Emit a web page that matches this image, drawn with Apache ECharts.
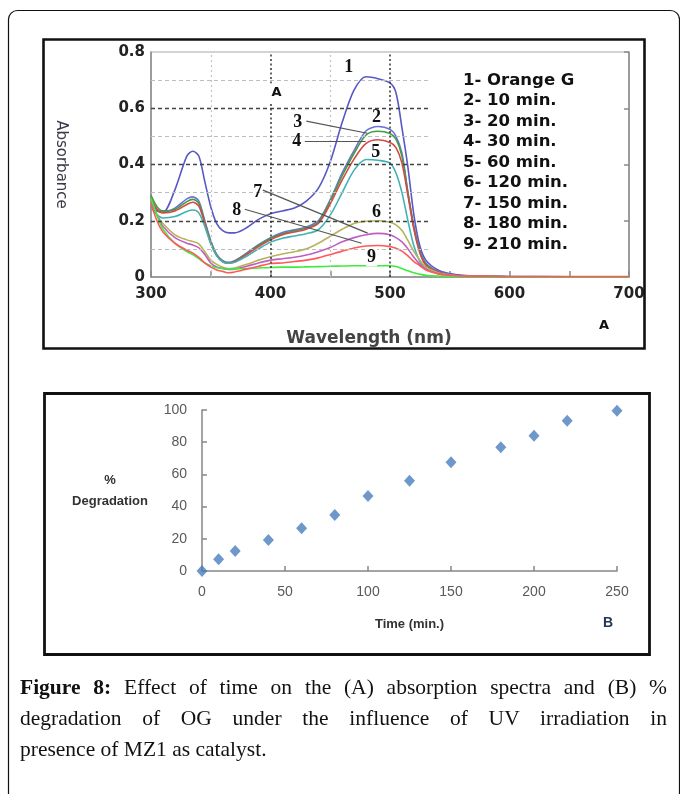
<!DOCTYPE html>
<html><head><meta charset="utf-8">
<script src="https://cdn.jsdelivr.net/npm/echarts@6/dist/echarts.min.js"></script>
<style>
html,body{margin:0;padding:0;background:#fff}
#c{position:absolute;left:0;top:0;width:680px;height:794px}
.cap{position:absolute;left:20px;width:647px;font-family:'Liberation Serif',serif;font-size:21.5px;line-height:31px;color:#111;white-space:nowrap}
.j{text-align:justify;text-align-last:justify;white-space:normal}
</style></head><body>
<div id="c"></div>
<div class="cap j" style="top:672px"><b>Figure 8:</b> Effect of time on the (A) absorption spectra and (B) %</div>
<div class="cap j" style="top:703px">degradation of OG under the influence of UV irradiation in</div>
<div class="cap" style="top:734px">presence of MZ1 as catalyst.</div>
<script>
// ---- Panel A: absorption spectra ----
const wavelengths = [300,305,310,320,330,335,340,345,350,355,360,365,370,380,390,400,410,420,430,440,450,460,470,480,490,500,505,510,515,520,525,530,540,550,560,580,600,650,700];
const seriesNames = ['1- Orange G','2- 10 min.','3- 20 min.','4- 30 min.','5- 60 min.','6- 120 min.','7- 150 min.','8- 180 min.','9- 210 min.'];
const absOrangeG = [0.25,0.235,0.23,0.31,0.43,0.447,0.43,0.34,0.25,0.19,0.165,0.157,0.157,0.175,0.205,0.225,0.235,0.245,0.27,0.315,0.41,0.55,0.665,0.712,0.705,0.69,0.655,0.53,0.39,0.22,0.11,0.06,0.025,0.012,0.006,0.003,0.002,0.001,0];
const abs10 = [0.27,0.24,0.23,0.245,0.278,0.285,0.27,0.20,0.13,0.08,0.058,0.052,0.058,0.085,0.115,0.14,0.158,0.168,0.178,0.20,0.275,0.37,0.45,0.52,0.535,0.525,0.50,0.44,0.30,0.18,0.095,0.05,0.02,0.01,0.005,0.002,0.001,0,0];
const abs20 = [0.29,0.25,0.235,0.24,0.268,0.276,0.262,0.195,0.125,0.078,0.056,0.05,0.056,0.083,0.112,0.137,0.154,0.164,0.174,0.195,0.27,0.36,0.44,0.505,0.518,0.51,0.49,0.43,0.30,0.175,0.09,0.045,0.018,0.008,0.004,0.002,0.001,0,0];
const abs30 = [0.28,0.24,0.228,0.235,0.258,0.266,0.252,0.19,0.12,0.076,0.054,0.049,0.054,0.08,0.108,0.132,0.15,0.16,0.17,0.19,0.26,0.345,0.42,0.475,0.488,0.478,0.46,0.405,0.29,0.17,0.085,0.042,0.018,0.008,0.004,0.002,0.001,0,0];
const abs60 = [0.25,0.222,0.21,0.215,0.233,0.238,0.228,0.18,0.118,0.075,0.054,0.049,0.052,0.074,0.1,0.124,0.138,0.146,0.154,0.168,0.22,0.30,0.38,0.418,0.415,0.405,0.37,0.30,0.20,0.11,0.055,0.03,0.014,0.007,0.003,0.002,0.001,0,0];
const abs120 = [0.27,0.22,0.19,0.15,0.132,0.126,0.118,0.09,0.06,0.045,0.035,0.03,0.032,0.045,0.06,0.072,0.082,0.09,0.1,0.12,0.145,0.17,0.19,0.198,0.2,0.195,0.185,0.165,0.13,0.09,0.06,0.035,0.015,0.007,0.003,0.002,0.001,0,0];
const abs150 = [0.27,0.22,0.18,0.14,0.12,0.114,0.104,0.08,0.05,0.036,0.03,0.027,0.028,0.038,0.05,0.06,0.065,0.07,0.078,0.09,0.105,0.125,0.14,0.15,0.155,0.15,0.14,0.125,0.1,0.07,0.045,0.028,0.012,0.006,0.003,0.002,0.001,0,0];
const abs180 = [0.26,0.2,0.16,0.12,0.095,0.085,0.07,0.05,0.035,0.025,0.02,0.015,0.018,0.028,0.038,0.048,0.05,0.055,0.06,0.068,0.08,0.092,0.103,0.11,0.112,0.108,0.102,0.092,0.075,0.055,0.04,0.025,0.012,0.006,0.004,0.003,0.002,0.002,0.002];
const abs210 = [0.28,0.22,0.17,0.12,0.09,0.08,0.065,0.05,0.04,0.033,0.03,0.029,0.029,0.03,0.032,0.034,0.035,0.035,0.036,0.037,0.038,0.039,0.04,0.04,0.04,0.04,0.037,0.03,0.022,0.015,0.01,0.006,0.003,0.002,0.001,0,0,0,0];
const spectra = [absOrangeG, abs10, abs20, abs30, abs60, abs120, abs150, abs180, abs210];
const lineColors = ['#5858c6','#6f6fda','#3f9f3f','#d64848','#3fb3b3','#b4b45a','#c25cc2','#ff5959','#3ced3c'];
const xTicksA = [300,400,500,600,700];
const yTicksA = [0,0.2,0.4,0.6,0.8];
// curve number labels and leader lines (data units)
const curveLabels = [['1',465.4,0.746],['2',488.8,0.568],['3',422.8,0.551],['4',422,0.483],['5',488,0.444],['6',488.8,0.23],['7',389.4,0.302],['8',371.8,0.237],['9',484.6,0.07]];
const leaderLines = [[[430,0.554],[481,0.511]],[[428.7,0.483],[479.6,0.483]],[[393.6,0.309],[481.3,0.156]],[[378.5,0.241],[476.3,0.12]]];

// ---- Panel B: % degradation ----
const times = [0,10,20,40,60,80,100,125,150,180,200,220,250];
const degradation = [0,7.3,12.4,19.3,26.5,34.8,46.6,56.1,67.5,76.8,84,93.4,99.6];
const xTicksB = [0,50,100,150,200,250];
const yTicksB = [0,20,40,60,80,100];

const chart = echarts.init(document.getElementById('c'), null, {renderer:'canvas'});
const fontA = 'DejaVu Sans';

// grid guide lines (dashed horizontals, dotted verticals)
const guideData = [];
[0.1,0.3,0.5,0.7].forEach(v=>guideData.push([{coord:[300,v],lineStyle:{color:'#bdbdbd',type:[4,3],width:1.2}},{coord:[533,v]}]));
[0.2,0.4,0.6].forEach(v=>guideData.push([{coord:[300,v],lineStyle:{color:'#444',type:[4,3],width:1.3}},{coord:[533,v]}]));
[350,450].forEach(v=>guideData.push([{coord:[v,0],lineStyle:{color:'#c4c4c4',type:[2,3],width:1.2}},{coord:[v,0.8]}]));
[400,500].forEach(v=>guideData.push([{coord:[v,0],lineStyle:{color:'#333',type:[2,2.5],width:1.5}},{coord:[v,0.8]}]));

const series = [{
  type:'line', name:'guides', xAxisIndex:0, yAxisIndex:0, data:[], silent:true, z:1,
  markLine:{silent:true, symbol:['none','none'], label:{show:false}, animation:false, data:guideData}
}];
spectra.forEach((arr,i)=>{
  series.push({
    type:'line', name:seriesNames[i], xAxisIndex:0, yAxisIndex:0, z:3+(i===7?1:0),
    data: wavelengths.map((w,k)=>[w,arr[k]]),
    smooth:0.3, showSymbol:false, symbol:'none',
    lineStyle:{color:lineColors[i], width:1.6}, itemStyle:{color:lineColors[i]}
  });
});
series.push({
  type:'line', name:'leaders', xAxisIndex:0, yAxisIndex:0, data:[], silent:true, z:5,
  markLine:{silent:true, symbol:['none','none'], label:{show:false}, animation:false,
    lineStyle:{color:'#555', type:'solid', width:1.2},
    data: leaderLines.map(p=>[{coord:p[0]},{coord:p[1]}])}
});
series.push({
  type:'scatter', name:'% Degradation', xAxisIndex:1, yAxisIndex:2,
  data: times.map((t,k)=>[t,degradation[k]]),
  symbol:'diamond', symbolSize:[11,12], itemStyle:{color:'#4a7ebb'}
});

const option = {
  backgroundColor:'#fff',
  animation:false,
  legend:{
    data:seriesNames, orient:'vertical', left:453, top:66, itemWidth:0, itemHeight:0, itemGap:2,
    selectedMode:false, icon:'rect',
    textStyle:{fontFamily:fontA, fontWeight:'bold', fontSize:16.5, lineHeight:18.5, color:'#111'}
  },
  grid:[
    {left:151, top:52, width:478, height:225, show:true, borderColor:'#a8a8a8', borderWidth:1, containLabel:false},
    {left:202, top:410, width:415, height:161, containLabel:false}
  ],
  xAxis:[
    {gridIndex:0, type:'value', min:300, max:700, interval:50,
     name:'Wavelength (nm)', nameLocation:'middle', nameGap:53,
     nameTextStyle:{fontFamily:fontA, fontWeight:'bold', fontSize:17, color:'#444', padding:[0,42,0,0]},
     axisLine:{lineStyle:{color:'#8a8a8a', width:1.5}},
     axisTick:{inside:true, length:6, lineStyle:{color:'#8a8a8a', width:1.5}},
     axisLabel:{formatter:v=>xTicksA.indexOf(v)>=0?String(v):'', fontFamily:fontA, fontWeight:'bold', fontSize:15, color:'#222', margin:10},
     splitLine:{show:false}},
    {gridIndex:1, type:'value', min:0, max:250, interval:50,
     name:'Time (min.)', nameLocation:'middle', nameGap:47,
     nameTextStyle:{fontFamily:'Liberation Sans', fontWeight:'bold', fontSize:13, color:'#333'},
     axisLine:{lineStyle:{color:'#868686', width:1.5}},
     axisTick:{inside:true, length:5, lineStyle:{color:'#868686', width:1.5}},
     axisLabel:{formatter:v=>xTicksB.indexOf(v)>=0?String(v):'', fontFamily:'Liberation Sans', fontSize:14, color:'#595959', margin:14},
     splitLine:{show:false}}
  ],
  yAxis:[
    {gridIndex:0, type:'value', min:0, max:0.8, interval:0.2,
     name:'Absorbance', nameLocation:'middle', nameGap:83, nameRotate:-90,
     nameTextStyle:{fontFamily:fontA, fontSize:15, color:'#3a3a48'},
     axisLine:{lineStyle:{color:'#8a8a8a', width:1.5}}, axisTick:{show:false},
     axisLabel:{formatter:v=>{const t=yTicksA.find(x=>Math.abs(x-v)<1e-6);return t===undefined?'':(t===0?'0':t.toFixed(1));},
       fontFamily:fontA, fontWeight:'bold', fontSize:15, color:'#222', margin:6},
     splitLine:{show:false}},
    {gridIndex:0, type:'value', min:0, max:0.8, interval:0.2, position:'right',
     axisLine:{show:true, lineStyle:{color:'#8a8a8a', width:1.5}},
     axisTick:{inside:true, length:5, lineStyle:{color:'#8a8a8a', width:1.5}},
     axisLabel:{show:false}, splitLine:{show:false}},
    {gridIndex:1, type:'value', min:0, max:100, interval:20,
     name:'%\nDegradation', nameLocation:'middle', nameGap:92, nameRotate:0,
     nameTextStyle:{fontFamily:'Liberation Sans', fontWeight:'bold', fontSize:13, lineHeight:21, color:'#333', align:'center', verticalAlign:'middle'},
     axisLine:{lineStyle:{color:'#868686', width:1.5}},
     axisTick:{inside:true, length:5, lineStyle:{color:'#868686', width:1.5}},
     axisLabel:{formatter:v=>yTicksB.indexOf(v)>=0?String(v):'', fontFamily:'Liberation Sans', fontSize:14, color:'#595959', margin:15},
     splitLine:{show:false}}
  ],
  series: series
};
chart.setOption(option);

// frames and annotation texts
const graphics = [
  {type:'rect', shape:{x:8.5, y:10.5, width:671, height:800, r:9}, style:{fill:null, stroke:'#111', lineWidth:1.2}, z:0, silent:true},
  {type:'rect', shape:{x:43.5, y:39.5, width:601, height:309}, style:{fill:null, stroke:'#111', lineWidth:2.6}, z:10, silent:true},
  {type:'rect', shape:{x:44.5, y:393.5, width:605, height:261}, style:{fill:null, stroke:'#111', lineWidth:2.8}, z:10, silent:true},
  {type:'text', x:604, y:326, style:{text:'A', font:'bold 13px "DejaVu Sans"', fill:'#111', align:'center', verticalAlign:'middle'}, z:10},
  {type:'text', x:608, y:623, style:{text:'B', font:'bold 14px "Liberation Sans"', fill:'#243652', align:'center', verticalAlign:'middle'}, z:10}
];
const pA = chart.convertToPixel({gridIndex:0}, [405, 0.654]);
graphics.push({type:'text', x:pA[0], y:pA[1], style:{text:'A', font:'bold 13px "DejaVu Sans"', fill:'#111', align:'center', verticalAlign:'middle', backgroundColor:'#fff', padding:[3,2]}, z:20});
curveLabels.forEach(l=>{
  const p = chart.convertToPixel({gridIndex:0}, [l[1], l[2]]);
  graphics.push({type:'text', x:p[0], y:p[1], style:{text:l[0], font:'bold 18px "Liberation Serif"', fill:'#111', align:'center', verticalAlign:'middle',
    backgroundColor: l[0]==='9' ? '#fff' : null, padding:[0,1]}, z:20});
});
chart.setOption({graphic:graphics});
</script>
</body></html>
